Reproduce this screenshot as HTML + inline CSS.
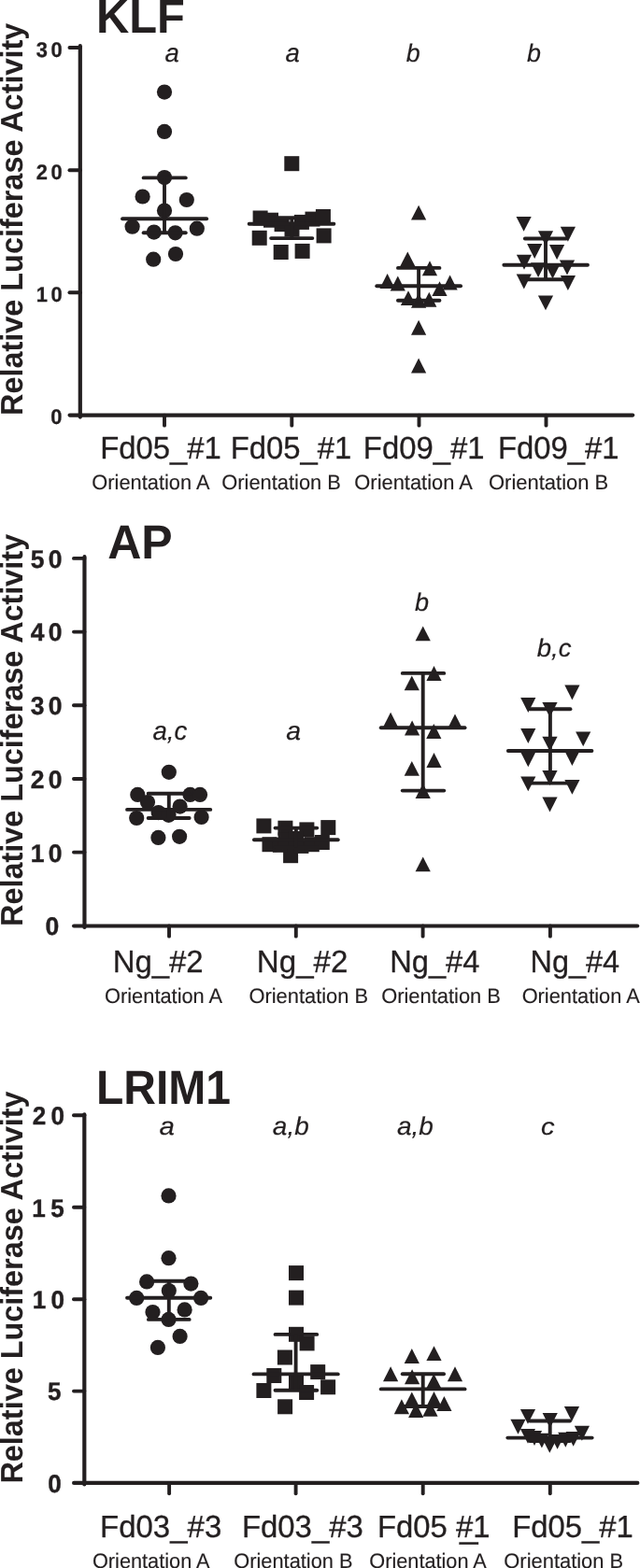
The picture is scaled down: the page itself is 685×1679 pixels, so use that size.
<!DOCTYPE html>
<html><head><meta charset="utf-8"><title>Relative Luciferase Activity</title>
<style>html,body{margin:0;padding:0;background:#fff}svg{display:block}text{font-family:"Liberation Sans",Arial,Helvetica,sans-serif;fill:#231f20;text-rendering:geometricPrecision}</style>
</head><body>
<svg width="685" height="1679" viewBox="0 0 685 1679">
<rect width="685" height="1679" fill="#fff"/>
<g stroke="#231f20" fill="none">
<line x1="85.8" y1="49.15" x2="85.8" y2="446.6" stroke-width="4.2" stroke-linecap="round"/>
<line x1="74.45" y1="51" x2="85.8" y2="51" stroke-width="3.9" stroke-linecap="round"/>
<line x1="74.45" y1="182.2" x2="85.8" y2="182.2" stroke-width="3.9" stroke-linecap="round"/>
<line x1="74.45" y1="313.3" x2="85.8" y2="313.3" stroke-width="3.9" stroke-linecap="round"/>
<line x1="74.6" y1="444.6" x2="677.2" y2="444.6" stroke-width="4.2" stroke-linecap="round"/>
<line x1="176" y1="444.6" x2="176" y2="455.65" stroke-width="3.9" stroke-linecap="round"/>
<line x1="312.3" y1="444.6" x2="312.3" y2="455.65" stroke-width="3.9" stroke-linecap="round"/>
<line x1="448.5" y1="444.6" x2="448.5" y2="455.65" stroke-width="3.9" stroke-linecap="round"/>
<line x1="584.5" y1="444.6" x2="584.5" y2="455.65" stroke-width="3.9" stroke-linecap="round"/>
</g>
<text transform="translate(23.78 444.96) rotate(-90) scale(0.975 1)" font-size="33.24" font-weight="bold" stroke="#231f20" stroke-width="0.05" stroke-linejoin="round">Relative Luciferase Activity</text>
<text transform="translate(103 34.6) scale(0.9543 1)" font-size="51.2" font-weight="bold">KLF</text>
<text transform="translate(38.66 61.05) scale(0.9649 1)" font-size="22.69" font-weight="bold" letter-spacing="3.69" stroke="#231f20" stroke-width="0.3" stroke-linejoin="round">30</text>
<text transform="translate(38.66 192.25) scale(0.9649 1)" font-size="22.69" font-weight="bold" letter-spacing="3.69" stroke="#231f20" stroke-width="0.3" stroke-linejoin="round">20</text>
<text transform="translate(38.66 323.35) scale(0.9649 1)" font-size="22.69" font-weight="bold" letter-spacing="3.69" stroke="#231f20" stroke-width="0.3" stroke-linejoin="round">10</text>
<text transform="translate(54.37 454.45) scale(0.9649 1)" font-size="22.69" font-weight="bold" stroke="#231f20" stroke-width="0.3" stroke-linejoin="round">0</text>
<text transform="translate(176.38 65.9) scale(0.9956 1)" font-size="27.72" font-style="italic" stroke="#231f20" stroke-width="0.2" stroke-linejoin="round">a</text>
<text transform="translate(305.38 65.9) scale(0.9956 1)" font-size="27.72" font-style="italic" stroke="#231f20" stroke-width="0.2" stroke-linejoin="round">a</text>
<text transform="translate(434.8 65.9) scale(0.9987 1)" font-size="26.9" font-style="italic" stroke="#231f20" stroke-width="0.2" stroke-linejoin="round">b</text>
<text transform="translate(563.9 65.9) scale(0.9987 1)" font-size="26.9" font-style="italic" stroke="#231f20" stroke-width="0.2" stroke-linejoin="round">b</text>
<text transform="translate(107.24 490.75) scale(0.9819 1)" font-size="33.45" stroke="#231f20" stroke-width="0.3" stroke-linejoin="round">Fd05_#1</text>
<text transform="translate(246.64 490.75) scale(0.9819 1)" font-size="33.45" stroke="#231f20" stroke-width="0.3" stroke-linejoin="round">Fd05_#1</text>
<text transform="translate(388.84 490.75) scale(0.9819 1)" font-size="33.45" stroke="#231f20" stroke-width="0.3" stroke-linejoin="round">Fd09_#1</text>
<text transform="translate(532.94 490.55) scale(0.9819 1)" font-size="33.45" stroke="#231f20" stroke-width="0.3" stroke-linejoin="round">Fd09_#1</text>
<text transform="translate(98.34 523.62) scale(0.977 1)" font-size="22.33" stroke="#231f20" stroke-width="0.15" stroke-linejoin="round">Orientation A</text>
<text transform="translate(237.34 523.82) scale(0.9785 1)" font-size="22.33" stroke="#231f20" stroke-width="0.15" stroke-linejoin="round">Orientation B</text>
<text transform="translate(379.34 523.82) scale(0.9801 1)" font-size="22.33" stroke="#231f20" stroke-width="0.15" stroke-linejoin="round">Orientation A</text>
<text transform="translate(523.03 524.22) scale(0.984 1)" font-size="22.33" stroke="#231f20" stroke-width="0.15" stroke-linejoin="round">Orientation B</text>
<g fill="#231f20">
<circle cx="176" cy="98.6" r="8.1"/>
<circle cx="176" cy="140.9" r="8.1"/>
<circle cx="176" cy="190.1" r="8.1"/>
<circle cx="152.6" cy="210.5" r="8.1"/>
<circle cx="199.8" cy="214" r="8.1"/>
<circle cx="176" cy="225.6" r="8.1"/>
<circle cx="141.6" cy="242.7" r="8.1"/>
<circle cx="164.8" cy="248.6" r="8.1"/>
<circle cx="187.6" cy="249.3" r="8.1"/>
<circle cx="210.8" cy="244.7" r="8.1"/>
<circle cx="188" cy="272" r="8.1"/>
<circle cx="164.2" cy="277.7" r="8.1"/>
<rect x="304.3" y="167.2" width="16" height="16"/>
<rect x="270.6" y="225.5" width="16" height="16"/>
<rect x="282" y="227.7" width="16" height="16"/>
<rect x="293.6" y="232.1" width="16" height="16"/>
<rect x="304.5" y="237.6" width="16" height="16"/>
<rect x="314.9" y="229.9" width="16" height="16"/>
<rect x="326.5" y="226.6" width="16" height="16"/>
<rect x="337.9" y="224" width="16" height="16"/>
<rect x="269.7" y="246.8" width="16" height="16"/>
<rect x="338.6" y="244.4" width="16" height="16"/>
<rect x="292.7" y="262" width="16" height="16"/>
<rect x="315.6" y="260.9" width="16" height="16"/>
<path d="M448.1 219.7L456.2 235.6H440Z"/>
<path d="M436.3 269.4L444.4 285.3H428.2Z"/>
<path d="M460 279.3L468.1 295.2H451.9Z"/>
<path d="M414.6 293.1L422.7 309H406.5Z"/>
<path d="M425.8 295.5L433.9 311.4H417.7Z"/>
<path d="M481.6 294.6L489.7 310.5H473.5Z"/>
<path d="M470.5 301.2L478.6 317.1H462.4Z"/>
<path d="M437 311.2L445.1 327.1H428.9Z"/>
<path d="M459.3 312.8L467.4 328.7H451.2Z"/>
<path d="M448.1 313.9L456.2 329.8H440Z"/>
<path d="M448.1 342.8L456.2 358.7H440Z"/>
<path d="M448.1 383.5L456.2 399.4H440Z"/>
<path d="M552.5 231.9H568.7L560.6 247.8Z"/>
<path d="M575.9 247.2H592.1L584 263.1Z"/>
<path d="M599.8 242.8H616L607.9 258.7Z"/>
<path d="M564.1 261H580.3L572.2 276.9Z"/>
<path d="M588 262.1H604.2L596.1 278Z"/>
<path d="M552.9 272.8H569.1L561 288.7Z"/>
<path d="M598.9 278.5H615.1L607 294.4Z"/>
<path d="M568 281.2H584.2L576.1 297.1Z"/>
<path d="M583.4 282.7H599.6L591.5 298.6Z"/>
<path d="M552.7 293.6H568.9L560.8 309.5Z"/>
<path d="M599.8 295H616L607.9 310.9Z"/>
<path d="M575.9 316.4H592.1L584 332.3Z"/>
</g>
<g stroke="#231f20" fill="none">
<line x1="131.05" y1="234.2" x2="221.15" y2="234.2" stroke-width="3.9" stroke-linecap="round"/>
<line x1="153.65" y1="190.4" x2="198.75" y2="190.4" stroke-width="3.9" stroke-linecap="round"/>
<line x1="153.65" y1="249.3" x2="198.75" y2="249.3" stroke-width="3.9" stroke-linecap="round"/>
<line x1="176" y1="190.4" x2="176" y2="249.3" stroke-width="3.9" stroke-linecap="butt"/>
</g>
<g stroke="#231f20" fill="none">
<line x1="266.65" y1="239.8" x2="357.35" y2="239.8" stroke-width="3.9" stroke-linecap="round"/>
<line x1="290.15" y1="233.2" x2="334.35" y2="233.2" stroke-width="3.9" stroke-linecap="round"/>
<line x1="290.15" y1="255.1" x2="334.35" y2="255.1" stroke-width="3.9" stroke-linecap="round"/>
<line x1="312.3" y1="233.2" x2="312.3" y2="255.1" stroke-width="3.9" stroke-linecap="butt"/>
</g>
<g stroke="#231f20" fill="none">
<line x1="403.25" y1="306.2" x2="493.05" y2="306.2" stroke-width="3.9" stroke-linecap="round"/>
<line x1="425.95" y1="286.9" x2="470.45" y2="286.9" stroke-width="3.9" stroke-linecap="round"/>
<line x1="425.95" y1="321.7" x2="470.45" y2="321.7" stroke-width="3.9" stroke-linecap="round"/>
<line x1="448.1" y1="286.9" x2="448.1" y2="321.7" stroke-width="3.9" stroke-linecap="butt"/>
</g>
<g stroke="#231f20" fill="none">
<line x1="539.35" y1="283.8" x2="628.95" y2="283.8" stroke-width="3.9" stroke-linecap="round"/>
<line x1="561.85" y1="255.5" x2="606.15" y2="255.5" stroke-width="3.9" stroke-linecap="round"/>
<line x1="561.85" y1="299.3" x2="606.15" y2="299.3" stroke-width="3.9" stroke-linecap="round"/>
<line x1="584" y1="255.5" x2="584" y2="299.3" stroke-width="3.9" stroke-linecap="butt"/>
</g>
<g stroke="#231f20" fill="none">
<line x1="90.45" y1="596.15" x2="90.45" y2="992.9" stroke-width="4.2" stroke-linecap="round"/>
<line x1="78.95" y1="597.9" x2="90.45" y2="597.9" stroke-width="3.9" stroke-linecap="round"/>
<line x1="78.95" y1="676.58" x2="90.45" y2="676.58" stroke-width="3.9" stroke-linecap="round"/>
<line x1="78.95" y1="755.26" x2="90.45" y2="755.26" stroke-width="3.9" stroke-linecap="round"/>
<line x1="78.95" y1="833.94" x2="90.45" y2="833.94" stroke-width="3.9" stroke-linecap="round"/>
<line x1="78.95" y1="912.62" x2="90.45" y2="912.62" stroke-width="3.9" stroke-linecap="round"/>
<line x1="79.1" y1="991.5" x2="682.2" y2="991.5" stroke-width="4.2" stroke-linecap="round"/>
<line x1="181" y1="991.5" x2="181" y2="1002.65" stroke-width="3.9" stroke-linecap="round"/>
<line x1="316.8" y1="991.5" x2="316.8" y2="1002.65" stroke-width="3.9" stroke-linecap="round"/>
<line x1="452.6" y1="991.5" x2="452.6" y2="1002.65" stroke-width="3.9" stroke-linecap="round"/>
<line x1="588.9" y1="991.5" x2="588.9" y2="1002.65" stroke-width="3.9" stroke-linecap="round"/>
</g>
<text transform="translate(23.78 991.96) rotate(-90) scale(0.9747 1)" font-size="33.24" font-weight="bold" stroke="#231f20" stroke-width="0.05" stroke-linejoin="round">Relative Luciferase Activity</text>
<text transform="translate(115.15 598.3) scale(0.978 1)" font-size="51.2" font-weight="bold">AP</text>
<text transform="translate(32.74 607.8) scale(0.9805 1)" font-size="27.05" font-weight="bold" letter-spacing="4.47" stroke="#231f20" stroke-width="0.4" stroke-linejoin="round">50</text>
<text transform="translate(32.74 686.48) scale(0.9805 1)" font-size="27.05" font-weight="bold" letter-spacing="4.47" stroke="#231f20" stroke-width="0.4" stroke-linejoin="round">40</text>
<text transform="translate(32.74 765.16) scale(0.9805 1)" font-size="27.05" font-weight="bold" letter-spacing="4.47" stroke="#231f20" stroke-width="0.4" stroke-linejoin="round">30</text>
<text transform="translate(32.74 843.84) scale(0.9805 1)" font-size="27.05" font-weight="bold" letter-spacing="4.47" stroke="#231f20" stroke-width="0.4" stroke-linejoin="round">20</text>
<text transform="translate(32.74 922.52) scale(0.9805 1)" font-size="27.05" font-weight="bold" letter-spacing="4.47" stroke="#231f20" stroke-width="0.4" stroke-linejoin="round">10</text>
<text transform="translate(48.54 1001.2) scale(0.9805 1)" font-size="27.05" font-weight="bold" stroke="#231f20" stroke-width="0.4" stroke-linejoin="round">0</text>
<text transform="translate(163.38 792.4) scale(0.9896 1)" font-size="27.91" font-style="italic" stroke="#231f20" stroke-width="0.2" stroke-linejoin="round">a,c</text>
<text transform="translate(306.36 792.4) scale(1.0177 1)" font-size="27.91" font-style="italic" stroke="#231f20" stroke-width="0.2" stroke-linejoin="round">a</text>
<text transform="translate(443.89 653.9) scale(1.0112 1)" font-size="26.76" font-style="italic" stroke="#231f20" stroke-width="0.2" stroke-linejoin="round">b</text>
<text transform="translate(574.69 702.8) scale(1.029 1)" font-size="26.76" font-style="italic" stroke="#231f20" stroke-width="0.2" stroke-linejoin="round">b,c</text>
<text transform="translate(120.63 1041.45) scale(0.9842 1)" font-size="33.45" stroke="#231f20" stroke-width="0.3" stroke-linejoin="round">Ng_#2</text>
<text transform="translate(274.82 1041.45) scale(0.9905 1)" font-size="33.45" stroke="#231f20" stroke-width="0.3" stroke-linejoin="round">Ng_#2</text>
<text transform="translate(417.16 1041.45) scale(0.9763 1)" font-size="33.45" stroke="#231f20" stroke-width="0.3" stroke-linejoin="round">Ng_#4</text>
<text transform="translate(567.47 1041.45) scale(0.9711 1)" font-size="33.45" stroke="#231f20" stroke-width="0.3" stroke-linejoin="round">Ng_#4</text>
<text transform="translate(112.04 1074.42) scale(0.977 1)" font-size="22.33" stroke="#231f20" stroke-width="0.15" stroke-linejoin="round">Orientation A</text>
<text transform="translate(266.44 1074.42) scale(0.9793 1)" font-size="22.33" stroke="#231f20" stroke-width="0.15" stroke-linejoin="round">Orientation B</text>
<text transform="translate(408.13 1074.42) scale(0.9809 1)" font-size="22.33" stroke="#231f20" stroke-width="0.15" stroke-linejoin="round">Orientation B</text>
<text transform="translate(558.64 1074.42) scale(0.977 1)" font-size="22.33" stroke="#231f20" stroke-width="0.15" stroke-linejoin="round">Orientation A</text>
<g fill="#231f20">
<circle cx="180.8" cy="826.8" r="8.1"/>
<circle cx="147.3" cy="850.9" r="8.1"/>
<circle cx="203.5" cy="850.9" r="8.1"/>
<circle cx="214" cy="850.9" r="8.1"/>
<circle cx="158" cy="859" r="8.1"/>
<circle cx="192.6" cy="863.6" r="8.1"/>
<circle cx="169.6" cy="870.1" r="8.1"/>
<circle cx="180.5" cy="872.8" r="8.1"/>
<circle cx="146.2" cy="876" r="8.1"/>
<circle cx="215.6" cy="875" r="8.1"/>
<circle cx="169.4" cy="896.9" r="8.1"/>
<circle cx="192.1" cy="895.8" r="8.1"/>
<rect x="274.4" y="876.4" width="16" height="16"/>
<rect x="297.4" y="878.7" width="16" height="16"/>
<rect x="320.4" y="880.4" width="16" height="16"/>
<rect x="343.3" y="878.1" width="16" height="16"/>
<rect x="303.1" y="908.2" width="16" height="16"/>
<rect x="280.5" y="896.2" width="16" height="16"/>
<rect x="291.9" y="896.8" width="16" height="16"/>
<rect x="314.4" y="897.9" width="16" height="16"/>
<rect x="325.8" y="896.2" width="16" height="16"/>
<rect x="336.8" y="894" width="16" height="16"/>
<rect x="297.6" y="891.4" width="16" height="16"/>
<rect x="308.9" y="890" width="16" height="16"/>
<path d="M452.7 670.4L460.8 686.3H444.6Z"/>
<path d="M464.5 713.1L472.6 729H456.4Z"/>
<path d="M440.8 723.4L448.9 739.3H432.7Z"/>
<path d="M418.1 762.8L426.2 778.7H410Z"/>
<path d="M487 764.5L495.1 780.4H478.9Z"/>
<path d="M441.1 771.5L449.2 787.4H433Z"/>
<path d="M464.3 775L472.4 790.9H456.2Z"/>
<path d="M464.5 806.1L472.6 822H456.4Z"/>
<path d="M440.8 814.9L448.9 830.8H432.7Z"/>
<path d="M452.7 839L460.8 854.9H444.6Z"/>
<path d="M452.7 917.4L460.8 933.3H444.6Z"/>
<path d="M604.3 733.5H620.5L612.4 749.4Z"/>
<path d="M557.2 747.1H573.4L565.3 763Z"/>
<path d="M580.4 752.1H596.6L588.5 768Z"/>
<path d="M557.2 780.1H573.4L565.3 796Z"/>
<path d="M616.1 783.4H632.3L624.2 799.3Z"/>
<path d="M580.4 788.7H596.6L588.5 804.6Z"/>
<path d="M557.2 805.3H573.4L565.3 821.2Z"/>
<path d="M604.3 804H620.5L612.4 819.9Z"/>
<path d="M580.4 825H596.6L588.5 840.9Z"/>
<path d="M557.2 831.4H573.4L565.3 847.3Z"/>
<path d="M604.3 834.9H620.5L612.4 850.8Z"/>
<path d="M580.4 853.5H596.6L588.5 869.4Z"/>
</g>
<g stroke="#231f20" fill="none">
<line x1="136.05" y1="866.9" x2="225.25" y2="866.9" stroke-width="3.9" stroke-linecap="round"/>
<line x1="158.65" y1="849.8" x2="202.65" y2="849.8" stroke-width="3.9" stroke-linecap="round"/>
<line x1="158.65" y1="876" x2="202.65" y2="876" stroke-width="3.9" stroke-linecap="round"/>
<line x1="180.8" y1="849.8" x2="180.8" y2="876" stroke-width="3.9" stroke-linecap="butt"/>
</g>
<g stroke="#231f20" fill="none">
<line x1="271.95" y1="899.3" x2="361.75" y2="899.3" stroke-width="3.9" stroke-linecap="round"/>
<line x1="294.55" y1="886.6" x2="339.25" y2="886.6" stroke-width="3.9" stroke-linecap="round"/>
<line x1="294.55" y1="907.1" x2="339.25" y2="907.1" stroke-width="3.9" stroke-linecap="round"/>
<line x1="316.9" y1="886.6" x2="316.9" y2="907.1" stroke-width="3.9" stroke-linecap="butt"/>
</g>
<g stroke="#231f20" fill="none">
<line x1="407.75" y1="779.2" x2="497.55" y2="779.2" stroke-width="3.9" stroke-linecap="round"/>
<line x1="430.75" y1="720.9" x2="475.25" y2="720.9" stroke-width="3.9" stroke-linecap="round"/>
<line x1="430.75" y1="846.6" x2="475.25" y2="846.6" stroke-width="3.9" stroke-linecap="round"/>
<line x1="452.7" y1="720.9" x2="452.7" y2="846.6" stroke-width="3.9" stroke-linecap="butt"/>
</g>
<g stroke="#231f20" fill="none">
<line x1="543.85" y1="804" x2="633.45" y2="804" stroke-width="3.9" stroke-linecap="round"/>
<line x1="566.85" y1="759.3" x2="610.45" y2="759.3" stroke-width="3.9" stroke-linecap="round"/>
<line x1="566.85" y1="838.6" x2="610.45" y2="838.6" stroke-width="3.9" stroke-linecap="round"/>
<line x1="588.9" y1="759.3" x2="588.9" y2="838.6" stroke-width="3.9" stroke-linecap="butt"/>
</g>
<g stroke="#231f20" fill="none">
<line x1="90.3" y1="1193.3" x2="90.3" y2="1589.5" stroke-width="4.2" stroke-linecap="round"/>
<line x1="78.95" y1="1194.3" x2="90.3" y2="1194.3" stroke-width="3.9" stroke-linecap="round"/>
<line x1="78.95" y1="1292.8" x2="90.3" y2="1292.8" stroke-width="3.9" stroke-linecap="round"/>
<line x1="78.95" y1="1391.2" x2="90.3" y2="1391.2" stroke-width="3.9" stroke-linecap="round"/>
<line x1="78.95" y1="1489.6" x2="90.3" y2="1489.6" stroke-width="3.9" stroke-linecap="round"/>
<line x1="79.1" y1="1587.9" x2="682.3" y2="1587.9" stroke-width="4.2" stroke-linecap="round"/>
<line x1="181.1" y1="1587.9" x2="181.1" y2="1599.25" stroke-width="3.9" stroke-linecap="round"/>
<line x1="316.6" y1="1587.9" x2="316.6" y2="1599.25" stroke-width="3.9" stroke-linecap="round"/>
<line x1="452.7" y1="1587.9" x2="452.7" y2="1599.25" stroke-width="3.9" stroke-linecap="round"/>
<line x1="588.8" y1="1587.9" x2="588.8" y2="1599.25" stroke-width="3.9" stroke-linecap="round"/>
</g>
<text transform="translate(23.78 1588.56) rotate(-90) scale(0.9747 1)" font-size="33.24" font-weight="bold" stroke="#231f20" stroke-width="0.05" stroke-linejoin="round">Relative Luciferase Activity</text>
<text transform="translate(103.06 1181.8) scale(0.9375 1)" font-size="51.2" font-weight="bold">LRIM1</text>
<text transform="translate(34.69 1204) scale(0.9649 1)" font-size="27.05" font-weight="bold" letter-spacing="5.58" stroke="#231f20" stroke-width="0.4" stroke-linejoin="round">20</text>
<text transform="translate(34.36 1302.5) scale(0.9649 1)" font-size="27.05" font-weight="bold" letter-spacing="5.58" stroke="#231f20" stroke-width="0.4" stroke-linejoin="round">15</text>
<text transform="translate(34.69 1400.9) scale(0.9649 1)" font-size="27.05" font-weight="bold" letter-spacing="5.58" stroke="#231f20" stroke-width="0.4" stroke-linejoin="round">10</text>
<text transform="translate(51.03 1499.3) scale(0.9649 1)" font-size="27.05" font-weight="bold" stroke="#231f20" stroke-width="0.4" stroke-linejoin="round">5</text>
<text transform="translate(51.36 1597.5) scale(0.9649 1)" font-size="27.05" font-weight="bold" stroke="#231f20" stroke-width="0.4" stroke-linejoin="round">0</text>
<text transform="translate(170.44 1214.8) scale(1.0898 1)" font-size="26.98" font-style="italic" stroke="#231f20" stroke-width="0.2" stroke-linejoin="round">a</text>
<text transform="translate(291.87 1214.9) scale(1.0343 1)" font-size="27.03" font-style="italic" stroke="#231f20" stroke-width="0.2" stroke-linejoin="round">a,b</text>
<text transform="translate(424.97 1214.9) scale(1.0371 1)" font-size="27.03" font-style="italic" stroke="#231f20" stroke-width="0.2" stroke-linejoin="round">a,b</text>
<text transform="translate(578.95 1214.9) scale(1.1385 1)" font-size="25.67" font-style="italic" stroke="#231f20" stroke-width="0.2" stroke-linejoin="round">c</text>
<text transform="translate(107.03 1645.55) scale(0.9904 1)" font-size="33.31" stroke="#231f20" stroke-width="0.3" stroke-linejoin="round">Fd03_#3</text>
<text transform="translate(258.93 1645.55) scale(0.988 1)" font-size="33.31" stroke="#231f20" stroke-width="0.3" stroke-linejoin="round">Fd03_#3</text>
<text transform="translate(403.94 1645.55) scale(0.9862 1)" font-size="33.31" stroke="#231f20" stroke-width="0.3" stroke-linejoin="round">Fd05 #1</text>
<text transform="translate(548.14 1645.55) scale(0.9862 1)" font-size="33.31" stroke="#231f20" stroke-width="0.3" stroke-linejoin="round">Fd05_#1</text>
<text transform="translate(98.94 1678.72) scale(0.9731 1)" font-size="22.33" stroke="#231f20" stroke-width="0.15" stroke-linejoin="round">Orientation A</text>
<text transform="translate(250.34 1678.72) scale(0.9754 1)" font-size="22.33" stroke="#231f20" stroke-width="0.15" stroke-linejoin="round">Orientation B</text>
<text transform="translate(395.34 1678.72) scale(0.9716 1)" font-size="22.33" stroke="#231f20" stroke-width="0.15" stroke-linejoin="round">Orientation A</text>
<text transform="translate(539.33 1678.72) scale(0.9809 1)" font-size="22.33" stroke="#231f20" stroke-width="0.15" stroke-linejoin="round">Orientation B</text>
<text transform="translate(492.2 1646.7) scale(1.02 1)" font-size="34" stroke="#231f20" stroke-width="0.5">_</text>
<g fill="#231f20">
<circle cx="180.5" cy="1280.4" r="8.1"/>
<circle cx="180.5" cy="1347.2" r="8.1"/>
<circle cx="157.1" cy="1372.4" r="8.1"/>
<circle cx="204.4" cy="1374.6" r="8.1"/>
<circle cx="180.8" cy="1382" r="8.1"/>
<circle cx="146.2" cy="1389.9" r="8.1"/>
<circle cx="215.1" cy="1389.9" r="8.1"/>
<circle cx="163.5" cy="1405" r="8.1"/>
<circle cx="197.6" cy="1402.4" r="8.1"/>
<circle cx="180.5" cy="1412.9" r="8.1"/>
<circle cx="192.6" cy="1430.9" r="8.1"/>
<circle cx="168.9" cy="1442.9" r="8.1"/>
<rect x="309" y="1355.1" width="16" height="16"/>
<rect x="309" y="1381.6" width="16" height="16"/>
<rect x="309" y="1420.8" width="16" height="16"/>
<rect x="320.6" y="1430.4" width="16" height="16"/>
<rect x="296.9" y="1445.5" width="16" height="16"/>
<rect x="285.3" y="1465" width="16" height="16"/>
<rect x="332.2" y="1461.1" width="16" height="16"/>
<rect x="309" y="1472.5" width="16" height="16"/>
<rect x="274.4" y="1481" width="16" height="16"/>
<rect x="343.1" y="1477.3" width="16" height="16"/>
<rect x="320.1" y="1483" width="16" height="16"/>
<rect x="297.1" y="1498.3" width="16" height="16"/>
<path d="M440.8 1444L448.9 1459.9H432.7Z"/>
<path d="M464.5 1441.2L472.6 1457.1H456.4Z"/>
<path d="M418.1 1463.3L426.2 1479.2H410Z"/>
<path d="M487 1463.3L495.1 1479.2H478.9Z"/>
<path d="M441.1 1466.3L449.2 1482.2H433Z"/>
<path d="M464.3 1470.9L472.4 1486.8H456.2Z"/>
<path d="M440.8 1490.4L448.9 1506.3H432.7Z"/>
<path d="M464.5 1490L472.6 1505.9H456.4Z"/>
<path d="M429.9 1498.3L438 1514.2H421.8Z"/>
<path d="M475.4 1495L483.5 1510.9H467.3Z"/>
<path d="M445.2 1502L453.3 1517.9H437.1Z"/>
<path d="M460.5 1500.9L468.6 1516.8H452.4Z"/>
<path d="M556.9 1508.9H573.1L565 1524.8Z"/>
<path d="M603.9 1506.1H620.1L612 1522Z"/>
<path d="M580.6 1513.1H596.8L588.7 1529Z"/>
<path d="M546.4 1519.8H562.6L554.5 1535.7Z"/>
<path d="M614.8 1526.8H631L622.9 1542.7Z"/>
<path d="M556.9 1529.9H573.1L565 1545.8Z"/>
<path d="M563.9 1532H580.1L572 1547.9Z"/>
<path d="M571.8 1534.7H588L579.9 1550.6Z"/>
<path d="M580.2 1539.9H596.4L588.3 1555.8Z"/>
<path d="M588.5 1535.9H604.7L596.6 1551.8Z"/>
<path d="M597.2 1533.8H613.4L605.3 1549.7Z"/>
<path d="M605.6 1532.9H621.8L613.7 1548.8Z"/>
</g>
<g stroke="#231f20" fill="none">
<line x1="136.05" y1="1389.7" x2="225.25" y2="1389.7" stroke-width="3.9" stroke-linecap="round"/>
<line x1="158.85" y1="1371.7" x2="202.65" y2="1371.7" stroke-width="3.9" stroke-linecap="round"/>
<line x1="158.85" y1="1412.9" x2="202.65" y2="1412.9" stroke-width="3.9" stroke-linecap="round"/>
<line x1="180.8" y1="1371.7" x2="180.8" y2="1412.9" stroke-width="3.9" stroke-linecap="butt"/>
</g>
<g stroke="#231f20" fill="none">
<line x1="271.55" y1="1471.4" x2="361.75" y2="1471.4" stroke-width="3.9" stroke-linecap="round"/>
<line x1="294.55" y1="1428.9" x2="339.25" y2="1428.9" stroke-width="3.9" stroke-linecap="round"/>
<line x1="294.55" y1="1488.7" x2="339.25" y2="1488.7" stroke-width="3.9" stroke-linecap="round"/>
<line x1="316.6" y1="1428.9" x2="316.6" y2="1488.7" stroke-width="3.9" stroke-linecap="butt"/>
</g>
<g stroke="#231f20" fill="none">
<line x1="407.75" y1="1487.4" x2="497.55" y2="1487.4" stroke-width="3.9" stroke-linecap="round"/>
<line x1="430.75" y1="1471.2" x2="475.05" y2="1471.2" stroke-width="3.9" stroke-linecap="round"/>
<line x1="430.75" y1="1506" x2="475.05" y2="1506" stroke-width="3.9" stroke-linecap="round"/>
<line x1="452.7" y1="1471.2" x2="452.7" y2="1506" stroke-width="3.9" stroke-linecap="butt"/>
</g>
<g stroke="#231f20" fill="none">
<line x1="543.35" y1="1539.6" x2="633.65" y2="1539.6" stroke-width="3.9" stroke-linecap="round"/>
<line x1="566.95" y1="1521.5" x2="610.05" y2="1521.5" stroke-width="3.9" stroke-linecap="round"/>
<line x1="566.95" y1="1543" x2="610.05" y2="1543" stroke-width="3.9" stroke-linecap="round"/>
<line x1="588.7" y1="1521.5" x2="588.7" y2="1543" stroke-width="3.9" stroke-linecap="butt"/>
</g>
</svg>
</body></html>
